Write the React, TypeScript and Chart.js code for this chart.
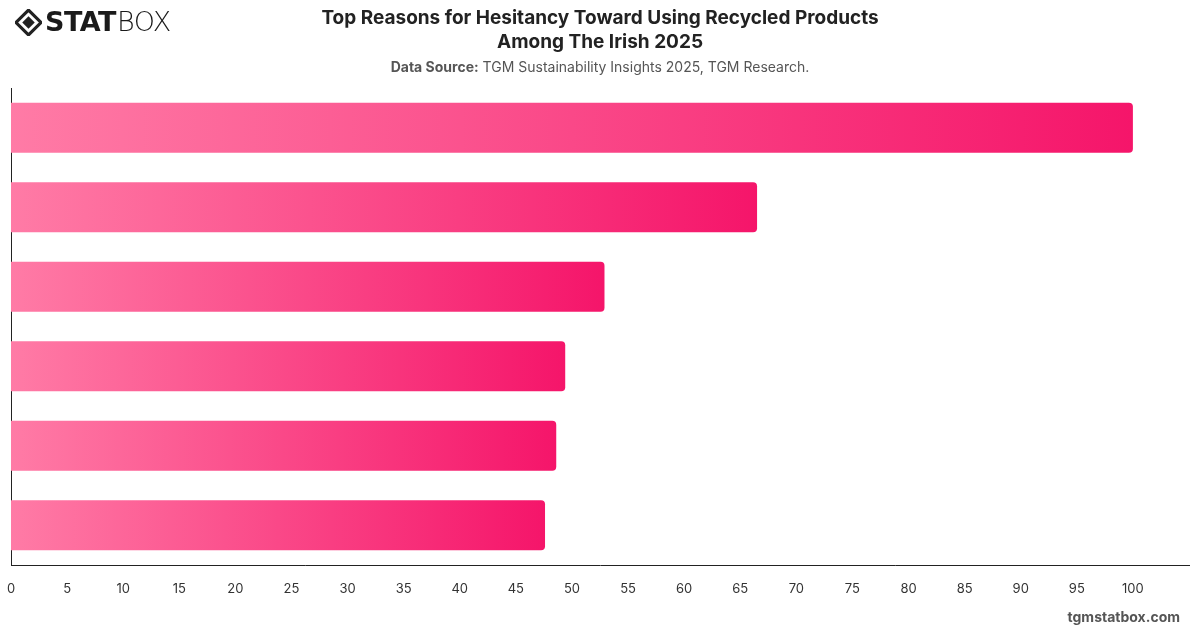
import React, { useEffect, useRef } from "react";
import { Chart, registerables } from "chart.js";

Chart.register(...registerables);

const categories: string[] = [
  "Reason 1",
  "Reason 2",
  "Reason 3",
  "Reason 4",
  "Reason 5",
  "Reason 6",
];
const values: number[] = [100, 66.5, 52.9, 49.4, 48.6, 47.6];
const xMin = 0;
const xMax = 105;
const xStep = 5;
const shownTickMax = 100;

const titleLines = [
  "Top Reasons for Hesitancy Toward Using Recycled Products",
  "Among The Irish 2025",
];

export default function App() {
  const canvasRef = useRef<HTMLCanvasElement | null>(null);

  useEffect(() => {
    const canvas = canvasRef.current;
    if (!canvas) return;
    const chart = new Chart(canvas, {
      type: "bar",
      data: {
        labels: categories,
        datasets: [
          {
            data: values,
            backgroundColor: (ctx: any) => {
              const c = ctx.chart;
              const xs = c.scales && c.scales.x;
              if (!xs || ctx.raw == null) return "#f7407f";
              const x0 = xs.getPixelForValue(0);
              const x1 = xs.getPixelForValue(ctx.raw);
              if (!isFinite(x0) || !isFinite(x1) || x1 <= x0) return "#f7407f";
              const g = c.ctx.createLinearGradient(x0, 0, x1, 0);
              g.addColorStop(0, "#ff7ba6");
              g.addColorStop(1, "#f5156a");
              return g;
            },
            borderRadius: 4,
            borderSkipped: "start",
            barPercentage: 0.63,
            categoryPercentage: 1,
          },
        ],
      },
      options: {
        indexAxis: "y",
        animation: false,
        responsive: false,
        maintainAspectRatio: false,
        layout: { padding: { top: 88, left: 11, right: 11, bottom: 0 } },
        plugins: {
          legend: { display: false },
          tooltip: { enabled: false },
          title: { display: false },
        },
        scales: {
          x: {
            type: "linear",
            min: xMin,
            max: xMax,
            afterBuildTicks: (axis: any) => {
              axis.ticks = axis.ticks.filter((t: any) => t.value <= shownTickMax);
            },
            afterFit: (s: any) => {
              s.paddingLeft = 0;
              s.paddingRight = 0;
              s.height = 63;
            },
            ticks: {
              stepSize: xStep,
              color: "#333333",
              font: { family: "Inter, 'Noto Sans', sans-serif", size: 13 },
              padding: 16,
              maxRotation: 0,
            },
            grid: { display: false, drawTicks: false },
            border: { display: true, color: "#222222", width: 1 },
          },
          y: {
            afterFit: (s: any) => {
              s.width = 0;
            },
            ticks: { display: false },
            grid: { display: false, drawTicks: false },
            border: { display: true, color: "#222222", width: 1 },
          },
        },
      },
    });
    return () => chart.destroy();
  }, []);

  return (
    <div
      style={{
        position: "absolute",
        left: 0,
        top: 0,
        width: 1200,
        height: 628,
        background: "#ffffff",
        overflow: "hidden",
        fontFamily: "Inter, 'Noto Sans', sans-serif",
      }}
    >
      <canvas
        ref={canvasRef}
        width={1200}
        height={628}
        style={{ position: "absolute", left: 0, top: 0, width: 1200, height: 628 }}
      />
      {/* Logo */}
      <div
        style={{
          position: "absolute",
          left: 15,
          top: 7,
          display: "flex",
          alignItems: "center",
          height: 30,
        }}
      >
        <svg width="27" height="27" viewBox="0 0 26 26" style={{ marginRight: 3 }}>
          <polygon points="13,1 25,13 13,25 1,13" fill="none" stroke="#222" strokeWidth="3" />
          <polygon points="13,7 19,13 13,19 7,13" fill="#222" />
        </svg>
        <span
          style={{
            fontFamily: "'DejaVu Sans', sans-serif",
            fontWeight: 900,
            fontSize: 27,
            color: "#1a1a1a",
            letterSpacing: -0.5,
            lineHeight: "30px",
          }}
        >
          STAT
        </span>
        <span
          style={{
            fontFamily: "'DejaVu Sans', sans-serif",
            fontWeight: 200,
            fontSize: 27,
            color: "#1a1a1a",
            letterSpacing: -0.5,
            lineHeight: "30px",
            marginLeft: 1,
          }}
        >
          BOX
        </span>
      </div>
      {/* Title */}
      <div
        style={{
          position: "absolute",
          left: 0,
          width: 1200,
          top: 6,
          textAlign: "center",
          fontWeight: 700,
          fontSize: 19,
          lineHeight: "24px",
          color: "#222222",
        }}
      >
        <div>{titleLines[0]}</div>
        <div>{titleLines[1]}</div>
      </div>
      <div
        style={{
          position: "absolute",
          left: 0,
          width: 1200,
          top: 58,
          textAlign: "center",
          fontSize: 14,
          lineHeight: "18px",
          color: "#555555",
        }}
      >
        <span style={{ fontWeight: 700 }}>Data Source:</span> TGM Sustainability Insights 2025, TGM Research.
      </div>
      {/* Footer */}
      <div
        style={{
          position: "absolute",
          right: 20,
          top: 608,
          fontSize: 14,
          fontWeight: 700,
          color: "#555555",
          lineHeight: "18px",
        }}
      >
        tgmstatbox.com
      </div>
    </div>
  );
}
